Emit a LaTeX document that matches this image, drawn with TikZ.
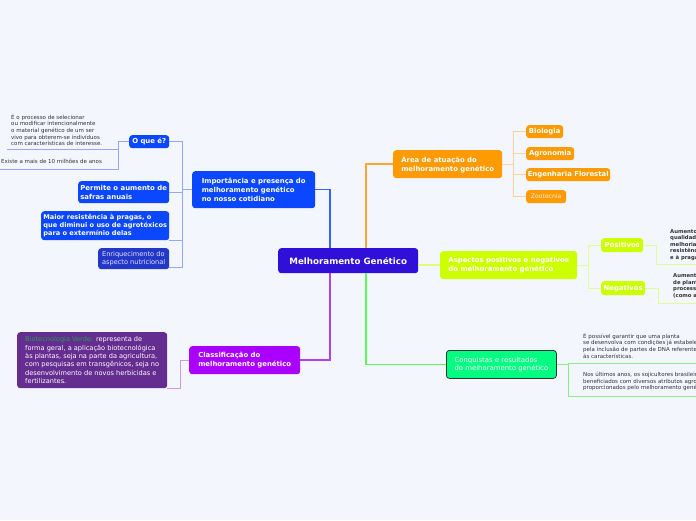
\documentclass[tikz,border=0pt]{standalone}
\usepackage{fontspec}
\setmainfont{DejaVu Sans}
\usetikzlibrary{calc}
\definecolor{bg}{HTML}{F3F6FD}
\definecolor{cmain}{HTML}{3010D9}
\definecolor{cblue}{HTML}{0A47FF}
\definecolor{cdblue}{HTML}{2338C9}
\definecolor{corange}{HTML}{FF9A00}
\definecolor{clime}{HTML}{CCFF00}
\definecolor{cgreen}{HTML}{00FF80}
\definecolor{cpurple}{HTML}{AA00FF}
\definecolor{cviolet}{HTML}{662D91}
\definecolor{cvtext}{HTML}{20A050}
\definecolor{lblue}{HTML}{3A60FF}
\definecolor{lbluec}{HTML}{94A8F8}
\definecolor{lorange}{HTML}{FFA630}
\definecolor{lorangec}{HTML}{FFD29C}
\definecolor{lpurple}{HTML}{B040F0}
\definecolor{lpurplec}{HTML}{CC99EE}
\definecolor{lgreen}{HTML}{55FF55}
\definecolor{lgreenc}{HTML}{88EE88}
\definecolor{llime}{HTML}{DDFF77}
\definecolor{llimec}{HTML}{DDFF99}
\definecolor{ctext}{HTML}{333333}
\newcommand\fbig{\fontsize{8.7}{10}\selectfont\bfseries}
\newcommand\fmid{\fontsize{6.9}{8.7}\selectfont\bfseries}
\newcommand\fmidt{\fontsize{6.6}{7.7}\selectfont\bfseries}
\newcommand\freg{\fontsize{6.6}{8.3}\selectfont}
\newcommand\fsmall{\fontsize{5.5}{6.6}\selectfont}
\begin{document}
\begin{tikzpicture}[x=1pt,y=-1pt,
  box/.style={anchor=north west, rounded corners=3pt, inner sep=0pt, align=left, text=white},
  plain/.style={anchor=north west, inner sep=0pt, align=left, text=ctext, font=\fsmall},
  mainline/.style={line width=1.5pt},
  childline/.style={line width=1pt}]
\useasboundingbox (0,0) rectangle (696,520);
\clip (0,0) rectangle (696,520);
\fill[bg] (0,0) rectangle (696,520);

% central
\node[box, fill=cmain, minimum width=140pt, minimum height=25pt, font=\fbig, align=center] (main) at (278,248) {Melhoramento Genético};

% blue branch
\node[box, fill=cblue, minimum width=123pt, minimum height=37pt, font=\fmid] (imp) at (192,171) {Importância e presença do\\melhoramento genético\\no nosso cotidiano};
\node[box, fill=cblue, minimum width=40pt, minimum height=13pt, font=\fmid, align=center] (oque) at (129,135) {O que é?};
\node[box, fill=cblue, minimum width=91pt, minimum height=22pt, font=\fmid] (permite) at (78,181) {Permite o aumento de\\safras anuais};
\node[box, fill=cblue, minimum width=128pt, minimum height=29pt, font=\fmidt] (maior) at (41,211) {Maior resistência à pragas, o\\que diminui o uso de agrotóxicos\\para o extermínio delas};
\node[box, fill=cdblue, minimum width=71pt, minimum height=21pt, font=\freg, text=blue!10] (enriq) at (98,248) {Enriquecimento do\\aspecto nutricional};
\node[plain] (t1) at (11,114) {É o processo de selecionar\\ou modificar intencionalmente\\o material genético de um ser\\vivo para obterem-se indivíduos\\com características de interesse.};
\node[plain] (t2) at (1,159.5) {Existe a mais de 10 milhões de anos};
\coordinate (u1) at (7,149);
\coordinate (u2) at (0,169);

\draw[mainline, lblue] ($(main.north west)+(52,0)$) |- (imp.east);
\draw[childline, lbluec] (imp.west) -- ++(-10,0) coordinate (ij);
\draw[childline, lbluec] (ij) |- (oque.east);
\draw[childline, lbluec] (ij) |- (permite.east);
\draw[childline, lbluec] (ij) |- (maior.south east);
\draw[childline, lbluec] (ij) |- ($(enriq.south east)+(0,-1.5)$);
\draw[childline, lbluec] (oque.west) -- ++(-11,0) coordinate (oj);
\draw[childline, lbluec] (oj) |- (u1);
\draw[childline, lbluec] (oj) |- (u2);

% orange branch
\node[box, fill=corange, minimum width=109pt, minimum height=28pt, font=\fmid] (area) at (393,150) {Área de atuação do\\melhoramento genético};
\node[box, fill=corange, minimum width=37pt, minimum height=13pt, font=\fmid, align=center] (bio) at (526,125) {Biologia};
\node[box, fill=corange, minimum width=48pt, minimum height=13pt, font=\fmid, align=center] (agro) at (526,147) {Agronomia};
\node[box, fill=corange, minimum width=84pt, minimum height=13pt, font=\fmid, align=center] (eng) at (526,168) {Engenharia Florestal};
\node[box, fill=corange, minimum width=40pt, minimum height=13pt, font=\fontsize{6.1}{8}\selectfont, align=center, text=white!90!orange] (zoo) at (526,190) {Zootecnia};
\draw[mainline, lorange] ($(main.north west)+(88,0)$) |- (area.west);
\draw[childline, lorangec] (area.east) -- ++(11,0) coordinate (aj);
\draw[childline, lorangec] (aj) |- (bio.west);
\draw[childline, lorangec] (aj) |- (agro.west);
\draw[childline, lorangec] (aj) |- (eng.west);
\draw[childline, lorangec] (aj) |- (zoo.west);

% lime branch
\node[box, fill=clime, minimum width=137pt, minimum height=28pt, font=\fmid] (asp) at (440,251) {Aspectos positivos e negativos\\do melhoramento genético};
\node[box, fill=clime, minimum width=42pt, minimum height=14pt, font=\fmid, align=center] (pos) at (601,238) {Positivos};
\node[box, fill=clime, minimum width=44pt, minimum height=14pt, font=\fmid, align=center] (neg) at (601,281) {Negativos};
\node[plain, font=\fontsize{5.3}{6.5}\selectfont\bfseries] (pt) at (670,229) {Aumento da produtividade,\\qualidade dos alimentos,\\melhoria nutricional,\\resistência a doenças\\e à pragas};
\node[plain, font=\fontsize{5.3}{6.8}\selectfont\bfseries] (nt) at (673,273) {Aumento do custo\\de plantas\\processos\\(como a};
\coordinate (up) at (700,264);
\coordinate (un) at (700,303);
\draw[mainline, llime] (main.east |- asp.west) -- (asp.west);
\draw[childline, llimec] (asp.east) -- ++(11,0) coordinate (sj);
\draw[childline, llimec] (sj) |- (pos.west);
\draw[childline, llimec] (sj) |- (neg.west);
\draw[childline, llimec] (pos.east) -- ++(13,0) |- (up);
\draw[childline, llimec] (neg.east) -- ++(13,0) |- (un);

% green branch
\node[box, fill=cgreen, draw=ctext, line width=0.8pt, minimum width=110pt, minimum height=28pt, font=\fontsize{6.9}{8.3}\selectfont] (conq) at (446,350) {Conquistas e resultados\\do melhoramento genético};
\node[plain] (c1) at (583,333) {É possível garantir que uma planta\\se desenvolva com condições já estabelecidas\\pela inclusão de partes de DNA referentes\\às características.};
\node[plain] (c2) at (583,372) {Nos últimos anos, os sojicultores brasileiros\\beneficiados com diversos atributos agronômicos\\proporcionados pelo melhoramento genético};
\coordinate (uc1) at (700,363);
\coordinate (uc2) at (700,396);
\draw[mainline, lgreen] ($(main.south west)+(88,0)$) |- (conq.west);
\draw[childline, lgreenc] (conq.east) -- ++(12,0) coordinate (cj);
\draw[childline, lgreenc] (cj) |- (uc1);
\draw[childline, lgreenc] (cj) |- (uc2);

% purple branch
\node[box, fill=cpurple, minimum width=111pt, minimum height=28pt, font=\fmid] (clas) at (189,346) {Classificação do\\melhoramento genético};
\node[box, fill=cviolet, minimum width=150pt, minimum height=56pt, font=\fontsize{6.6}{8.3}\selectfont] (biov) at (17,332) {\textcolor{cvtext}{Biotecnologia Verde:} representa de\\forma geral, a aplicação biotecnológica\\às plantas, seja na parte da agricultura,\\com pesquisas em transgênicos, seja no\\desenvolvimento de novos herbicidas e\\fertilizantes.};
\draw[mainline, lpurple] ($(main.south west)+(52,0)$) |- (clas.east);
\draw[childline, lpurplec] (clas.west) -- ++(-9,0) |- (biov.south east);
\end{tikzpicture}
\end{document}
